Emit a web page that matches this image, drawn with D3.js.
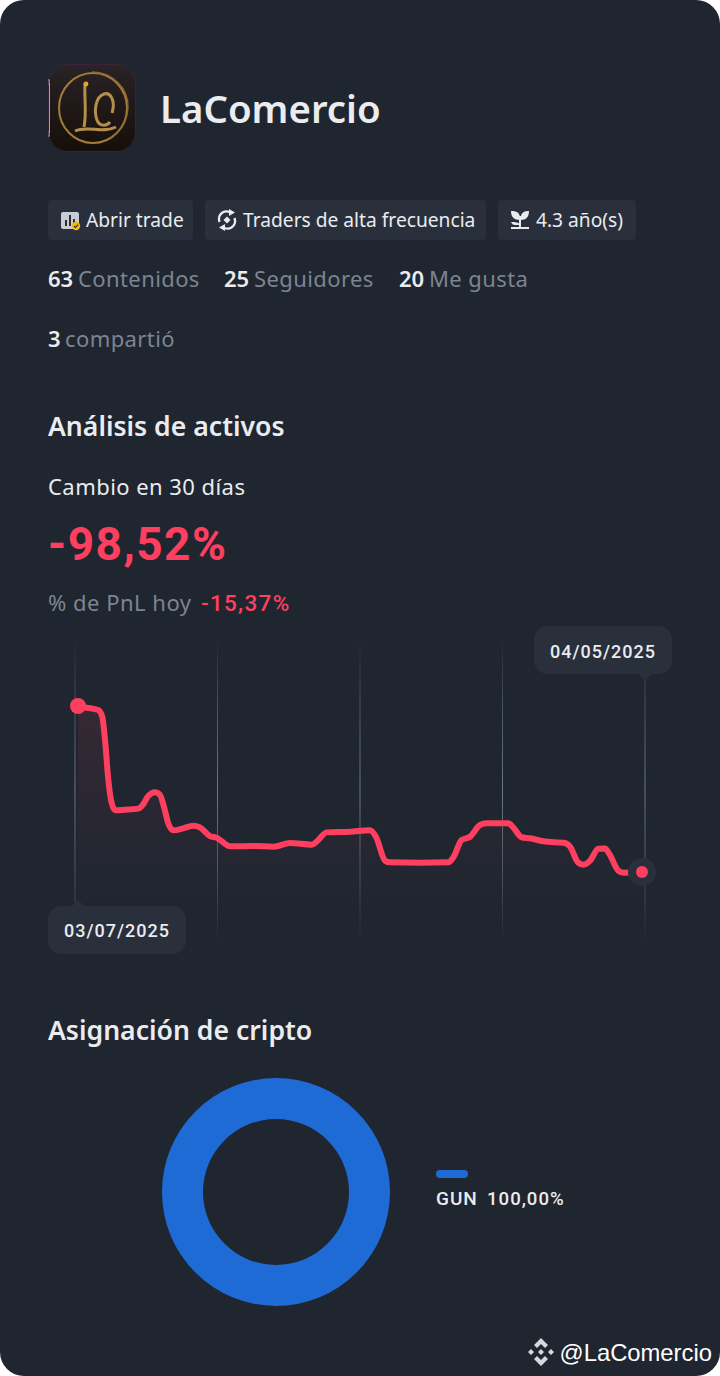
<!DOCTYPE html>
<html><head><meta charset="utf-8">
<script src="https://cdnjs.cloudflare.com/ajax/libs/d3/7.8.5/d3.min.js"></script>
<style>html,body{margin:0;padding:0;background:#fff}svg{display:block}text{font-family:"Noto Sans",sans-serif}</style>
</head><body><div id="c"></div>
<script>
const pnlDays=[0,0.45,1.04,1.25,1.39,1.56,1.73,1.92,2.40,3.10,3.36,3.61,3.96,4.22,4.42,4.64,4.90,5.41,5.93,6.27,6.79,7.13,7.82,9.01,10.04,10.90,12.02,12.27,12.79,13.99,15.01,15.32,15.79,16.04,17.59,19.04,19.30,19.73,20.16,20.67,21.01,22.13,22.38,22.81,23.24,23.93,25.04,25.30,25.72,25.98,26.33,26.75,27.10,27.35,27.78,28.04,29];
const pnlValues=[0,-1.0,-2.4,-6.4,-20.2,-43.9,-57.5,-61.9,-61.6,-60.9,-58.2,-53.4,-51.2,-52.8,-59.8,-69.6,-73.8,-72.6,-71.0,-72.0,-77.2,-78.2,-83.3,-83.1,-83.5,-81.3,-82.3,-80.5,-75.0,-74.6,-73.8,-77.6,-91.8,-92.8,-93.0,-92.8,-89.8,-79.5,-77.6,-70.6,-69.6,-69.6,-72.0,-77.9,-78.5,-80.3,-81.3,-83.5,-93.0,-94.2,-91.8,-84.7,-84.5,-88.4,-97.7,-98.9,-98.52];
const gridCount=[0,1,2,3,4];
const startDate="03/07/2025", endDate="04/05/2025";
const assetNames=["GUN"], assetShares=[100];
const tags=["Abrir trade","Traders de alta frecuencia","4.3 año(s)"];
const statNums=["63","25","20","3"], statLabels=["Contenidos","Seguidores","Me gusta","compartió"];

const BG="#1f2630",CHIP="#29303c",RED="#ff3f5f",FG="#eaecef",MUT="#7d8490";
const svg=d3.select("#c").append("svg").attr("width",720).attr("height",1376);
const defs=svg.append("defs");
svg.append("rect").attr("width",720).attr("height",1376).attr("rx",24).attr("fill",BG);
const T=(x,y,s,size,fill,w,fam,ls,anchor)=>{const t=svg.append("text").attr("x",x).attr("y",y).text(s).attr("font-size",size).attr("fill",fill).attr("font-weight",w||400);if(fam)t.style("font-family",fam);if(ls)t.attr("letter-spacing",ls);if(anchor)t.attr("text-anchor",anchor);return t;};

// avatar
defs.append("clipPath").attr("id","av").append("rect").attr("x",48).attr("y",64).attr("width",88).attr("height",88).attr("rx",20);
const av=svg.append("g").attr("clip-path","url(#av)");
const ag=defs.append("linearGradient").attr("id","avg").attr("x1",0).attr("x2",0).attr("y1",0).attr("y2",1);
ag.append("stop").attr("offset",0).attr("stop-color","#2a2327");ag.append("stop").attr("offset",1).attr("stop-color","#150e08");
av.append("rect").attr("x",48).attr("y",64).attr("width",88).attr("height",88).attr("fill","url(#avg)");
av.append("rect").attr("x",48).attr("y",79).attr("width",1.6).attr("height",58).attr("fill","#fff");
av.append("ellipse").attr("cx",93).attr("cy",108).attr("rx",34).attr("ry",35).attr("fill","none").attr("stroke","#a67c38").attr("stroke-width",2);
av.append("path").attr("d","M92 72C112 72 129 88 128 108C127 122 120 132 110 138").attr("fill","none").attr("stroke","#8d6a30").attr("stroke-width",1.3);
av.append("path").attr("d","M85 83C84 98 87 112 84 127M75 131C88 125 102 134 116 127M112 113C116 100 110 92 104 94C95 97 94 112 97 120C99 126 106 127 110 122").attr("fill","none").attr("stroke","#b58e4c").attr("stroke-width",3);
av.append("circle").attr("cx",86).attr("cy",84).attr("r",2.4).attr("fill","#e6a817");
svg.append("rect").attr("x",48.5).attr("y",64.5).attr("width",87).attr("height",87).attr("rx",20).attr("fill","none").attr("stroke","#3a2338");

T(160,123,"LaComercio",38.4,FG,600);

// chips
const chipX=[48,205,498], chipW=[145,281,138], chipT=[86,243,536];
tags.forEach((s,i)=>{svg.append("rect").attr("x",chipX[i]).attr("y",200).attr("width",chipW[i]).attr("height",40).attr("rx",4).attr("fill",CHIP);T(chipT[i],227,s,19.2,FG);});
// chip icons
const ic=svg.append("g");
ic.append("rect").attr("x",61).attr("y",212).attr("width",18).attr("height",17).attr("rx",2).attr("fill","#c9ccd1");
ic.selectAll("rect.b").data([[65,220,2,6],[69,215,2,11],[73,219,2,7]]).enter().append("rect").attr("x",d=>d[0]).attr("y",d=>d[1]).attr("width",d=>d[2]).attr("height",d=>d[3]).attr("fill","#29303c");
ic.append("circle").attr("cx",76).attr("cy",226).attr("r",4.2).attr("fill","#f0b90b");
ic.append("path").attr("d","M74 226l1.5 1.5 2.6-2.8").attr("fill","none").attr("stroke","#29303c").attr("stroke-width",1.1);
ic.append("path").attr("d","M219.5 222a8 8 0 0 1 3-9.5a8 8 0 0 1 7-.5M234.500 218a8 8 0 0 1-3 9.500a8 8 0 0 1-7 .5").attr("fill","none").attr("stroke",FG).attr("stroke-width",2.4);
ic.append("path").attr("d","M229 209l6 3.500-6 3.500zM225 231l-6-3.500 6-3.500z").attr("fill",FG);
ic.append("path").attr("d","M227 216.500l3.500 3.500-3.500 3.500-3.500-3.500z").attr("fill",FG);
ic.append("path").attr("d","M511 211c5 0 9 1 9 7v2c-6 0-9-3-9-9zM529 211c-4 0-8 1-8 6v3c5 0 8-3 8-9zM511 222c4 0 8 0 9 3h-5c-2 0-3-1-4-3z").attr("fill",FG);
ic.append("rect").attr("x",519).attr("y",216).attr("width",2).attr("height",11).attr("fill",FG);
ic.append("rect").attr("x",511).attr("y",227).attr("width",18).attr("height",2).attr("fill",FG);

// stats
const sx=[48,224,399,48], lx=[78,254,429,65], sy=[287,287,287,347];
statNums.forEach((n,i)=>{T(sx[i],sy[i],n,22,FG,600);T(lx[i],sy[i],statLabels[i],22,MUT,400,null,.4);});

T(48,436,"Análisis de activos",26.6,FG,600);
T(48,495,"Cambio en 30 días",22,FG,400,null,.45);
T(48,560,"-98,52%",46,RED,700,"Roboto",1.5);
T(48,611,"% de PnL hoy",22,MUT,400,null,.5);
T(201,611,"-15,37%",22.5,RED,500,"Roboto",1.3);

// chart
const x=d3.scaleLinear().domain([0,29]).range([78,642]);
const y=d3.scaleLinear().domain([0,-98.52]).range([706,872]);
const gx=d3.scaleLinear().domain([0,4]).range([75,645]);
const gg=defs.append("linearGradient").attr("id","grid").attr("gradientUnits","userSpaceOnUse").attr("x1",0).attr("x2",0).attr("y1",638).attr("y2",942);
[[0,0],[.2,.5],[.5,1],[.8,.5],[1,0]].forEach(s=>gg.append("stop").attr("offset",s[0]).attr("stop-color","#6f7784").attr("stop-opacity",s[1]));
svg.selectAll("rect.g").data(gridCount).enter().append("rect").attr("class","g").attr("x",d=>gx(d)-.5).attr("y",638).attr("width",1).attr("height",304).attr("fill","url(#grid)");
const fg=defs.append("linearGradient").attr("id","fill").attr("gradientUnits","userSpaceOnUse").attr("x1",0).attr("x2",0).attr("y1",706).attr("y2",905);
fg.append("stop").attr("offset",0).attr("stop-color",RED).attr("stop-opacity",.1);
fg.append("stop").attr("offset",1).attr("stop-color",RED).attr("stop-opacity",0);
const pts=pnlDays.map((d,i)=>[d,pnlValues[i]]);
const curve=d3.curveMonotoneX;
svg.append("path").datum(pts).attr("d",d3.area().x(d=>x(d[0])).y0(905).y1(d=>y(d[1])).curve(curve)).attr("fill","url(#fill)");
svg.append("path").datum(pts).attr("d",d3.line().x(d=>x(d[0])).y(d=>y(d[1])).curve(curve)).attr("fill","none").attr("stroke",RED).attr("stroke-width",6).attr("stroke-linejoin","round");
svg.append("circle").attr("cx",x(0)).attr("cy",y(0)).attr("r",8).attr("fill",RED);
svg.append("circle").attr("cx",x(29)).attr("cy",y(-98.52)).attr("r",14).attr("fill",CHIP);
svg.append("circle").attr("cx",x(29)).attr("cy",y(-98.52)).attr("r",6).attr("fill",RED);
// date bubbles
svg.append("rect").attr("x",534).attr("y",626).attr("width",138).attr("height",48).attr("rx",14).attr("fill",CHIP);
svg.append("path").attr("d","M638 674h14l-7 6z").attr("fill",CHIP);
T(603,658,endDate,18,FG,500,"Roboto",1,"middle");
svg.append("rect").attr("x",48).attr("y",906).attr("width",138).attr("height",48).attr("rx",14).attr("fill",CHIP);
svg.append("path").attr("d","M72 906h12l-6-6z").attr("fill",CHIP);
T(117,937,startDate,18,FG,500,"Roboto",1,"middle");

T(48,1040,"Asignación de cripto",26.6,FG,600);
const pie=d3.pie().sort(null)(assetShares);
svg.append("g").attr("transform","translate(276,1192)").selectAll("path").data(pie).enter().append("path").attr("d",d3.arc().innerRadius(73).outerRadius(114)).attr("fill","#1e6bd6");
svg.append("rect").attr("x",436).attr("y",1170).attr("width",32).attr("height",8).attr("rx",4).attr("fill","#1e6bd6");
T(436,1205,assetNames[0],19,FG,500,"Roboto",1);
T(487,1205,d3.format(".2f")(assetShares[0]).replace(".",",")+"%",18.6,FG,500,"Roboto",1);

// watermark
const wm=svg.append("g").attr("fill","#d6d8db").attr("transform","translate(541,1352)");
wm.append("path").attr("d","M0-14l7 7-3 3-4-4-4 4-3-3zM0 14l7-7-3-3-4 4-4-4-3 3zM-13 0l3-3 3 3-3 3zM13 0l-3-3-3 3 3 3zM0-3l3 3-3 3-3-3z");
T(559.5,1361,"@LaComercio",23.8,"#fff",400,"'Liberation Sans'");
</script></body></html>
